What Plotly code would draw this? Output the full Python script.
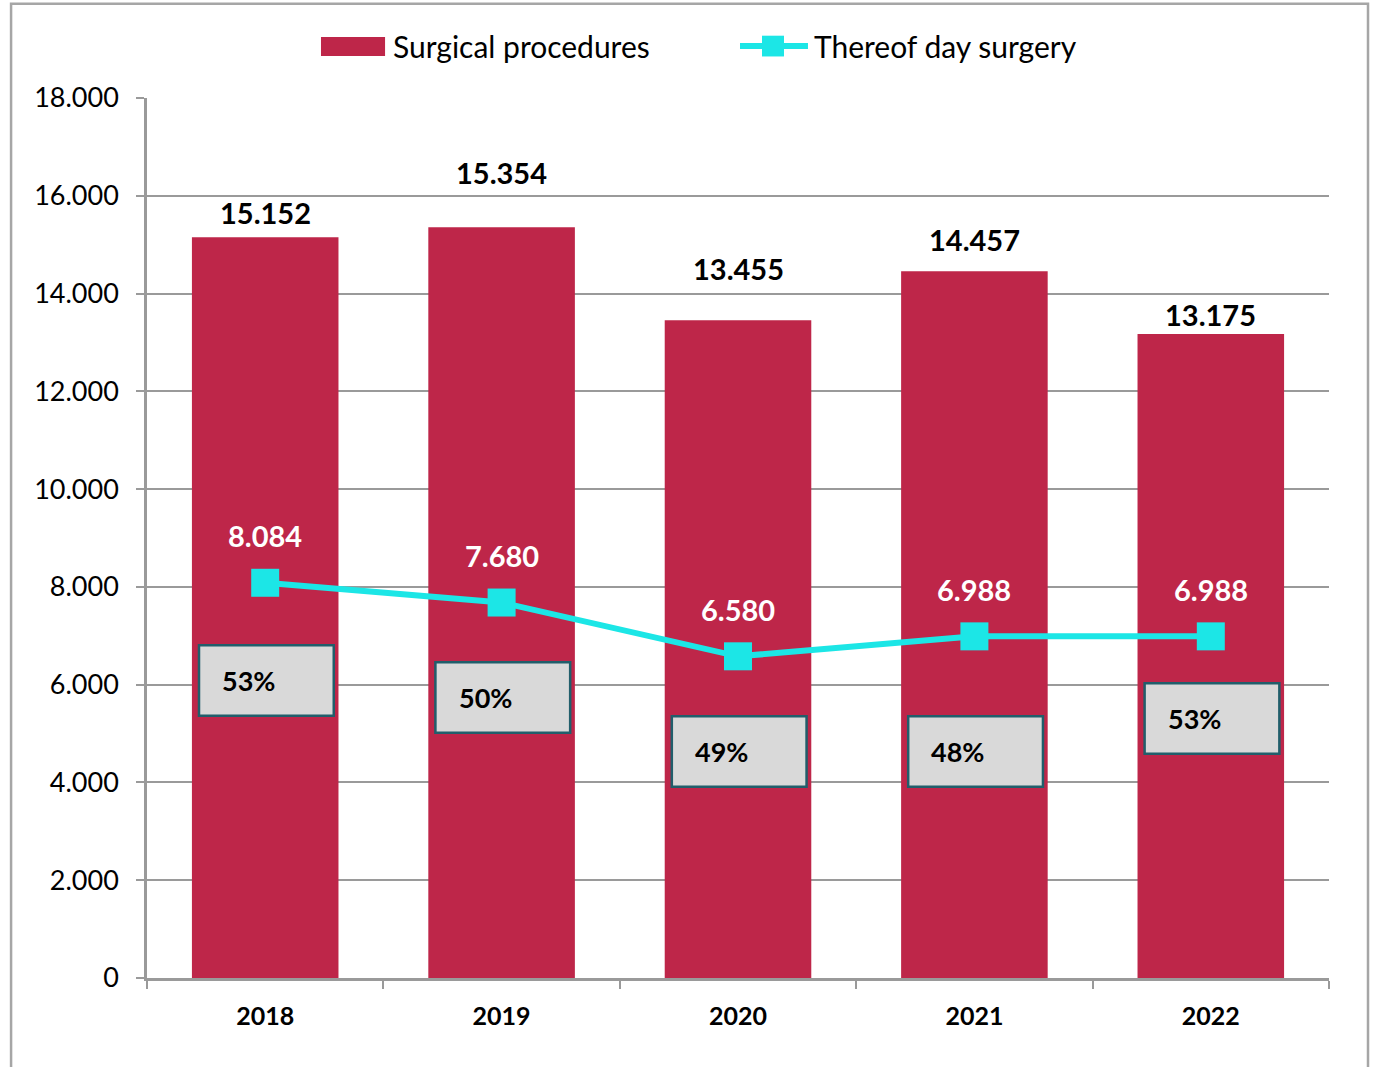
import plotly.graph_objects as go

years = ["2018", "2019", "2020", "2021", "2022"]
surgical = [15152, 15354, 13455, 14457, 13175]
day_surgery = [8084, 7680, 6580, 6988, 6988]
day_share = ["53%", "50%", "49%", "48%", "53%"]

# where the share boxes sit (data units) and how high the bar labels float (px)
share_box_y = [6085, 5737, 4633, 4633, 5308]
bar_label_shift = [23, 53, 50, 30, 17]

FONT = "Lato, Carlito, sans-serif"
BAR_COLOR = "#BE2649"
LINE_COLOR = "#1CE6E6"
GRID = "#9a9a9a"

fig = go.Figure()

fig.add_trace(go.Bar(
    x=years, y=surgical, name="Surgical procedures",
    marker=dict(color=BAR_COLOR, line=dict(width=0)),
))
fig.add_trace(go.Scatter(
    x=years, y=day_surgery, name="Thereof day surgery",
    mode="lines+markers",
    line=dict(color=LINE_COLOR, width=6),
    marker=dict(symbol="square", size=28, color=LINE_COLOR),
))

def fmt(v):
    return f"{v:,}".replace(",", ".")

for i, yr in enumerate(years):
    fig.add_annotation(x=i, y=surgical[i], text=f"<b>{fmt(surgical[i])}</b>",
                       showarrow=False, yshift=bar_label_shift[i] + 2,
                       font=dict(size=29, color="black", family=FONT))
    fig.add_annotation(x=i, y=day_surgery[i], text=f"<b>{fmt(day_surgery[i])}</b>",
                       showarrow=False, yshift=47,
                       font=dict(size=29, color="white", family=FONT))
    fig.add_shape(type="rect", xref="x", yref="y",
                  x0=i - 0.28, x1=i + 0.29,
                  y0=share_box_y[i] - 720, y1=share_box_y[i] + 720,
                  fillcolor="#D9D9D9", line=dict(color="#215E6B", width=2.5),
                  layer="above")
    fig.add_annotation(x=i - 0.19, y=share_box_y[i], text=f"<b>{day_share[i]}</b>",
                       xanchor="left", showarrow=False,
                       font=dict(size=27, color="black", family=FONT))

# outer chart border
fig.add_shape(type="rect", xref="paper", yref="paper",
              x0=-0.115, x1=1.033, y0=-0.3, y1=1.107,
              line=dict(color="#a6a6a6", width=2.5), layer="below")

# legend drawn by hand so the swatches get the reference's size
fig.add_shape(type="rect", xref="paper", yref="paper",
              x0=0.1472, x1=0.2014, y0=1.0477, y1=1.0693,
              fillcolor=BAR_COLOR, line=dict(width=0))
fig.add_annotation(xref="paper", yref="paper", x=0.2064, y=1.059,
                   xanchor="left", yanchor="middle", showarrow=False,
                   text="Surgical procedures", font=dict(size=30, family=FONT))
fig.add_shape(type="line", xref="paper", yref="paper",
              x0=0.5017, x1=0.5592, y0=1.059, y1=1.059,
              line=dict(color=LINE_COLOR, width=6))
fig.add_shape(type="rect", xref="paper", yref="paper",
              x0=0.5203, x1=0.5389, y0=1.0472, y1=1.0708,
              fillcolor=LINE_COLOR, line=dict(width=0))
fig.add_annotation(xref="paper", yref="paper", x=0.5626, y=1.059,
                   xanchor="left", yanchor="middle", showarrow=False,
                   text="Thereof day surgery", font=dict(size=30, family=FONT))

fig.update_layout(
    width=1381, height=1067,
    margin=dict(l=147, r=52, t=98, b=89),
    plot_bgcolor="white", paper_bgcolor="white",
    separators=",.",
    bargap=0.38,
    font=dict(family=FONT, size=22, color="black"),
    showlegend=False,
)
fig.update_xaxes(
    type="category",
    showline=True, linecolor=GRID, linewidth=2.5,
    ticks="outside", tickson="boundaries", ticklen=8, tickwidth=2, tickcolor=GRID,
    tickfont=dict(size=25, family=FONT),
    tickprefix="<b>", ticksuffix="</b>",
    ticklabelstandoff=14,
    showgrid=False,
)
fig.update_yaxes(
    range=[0, 18000], dtick=2000, tickformat=",d",
    showline=True, linecolor=GRID, linewidth=2.5,
    ticks="outside", ticklen=8, tickwidth=2, tickcolor=GRID,
    showgrid=True, gridcolor=GRID, gridwidth=2,
    tickfont=dict(size=27, family=FONT),
    ticklabelstandoff=12,
    zeroline=False,
)

fig.write_html("out.html", config={"displayModeBar": False},
               post_script="document.body.style.margin='0';")
